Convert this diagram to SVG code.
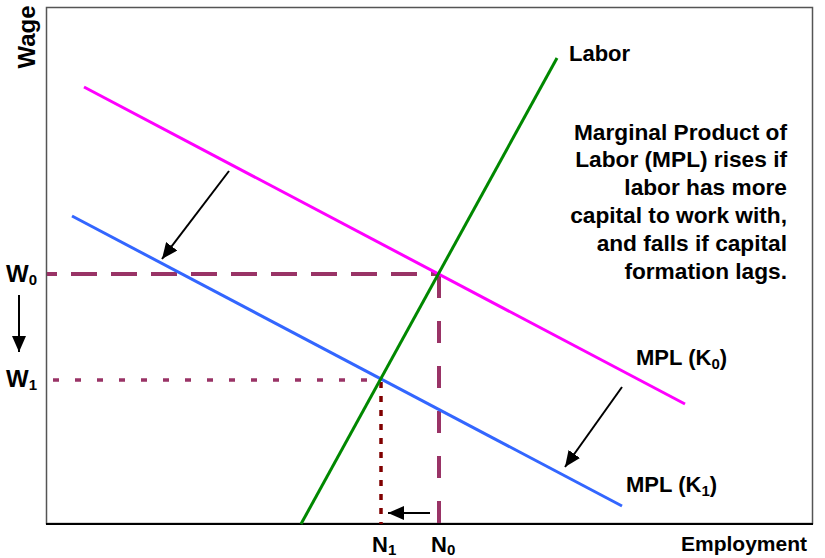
<svg xmlns="http://www.w3.org/2000/svg" width="825" height="558" viewBox="0 0 825 558">
<style>
text{font-family:"Liberation Sans",Arial,sans-serif;font-weight:bold;fill:#000;}
.lbl{font-size:22px;}
.big{font-size:24px;}
.note{font-size:22.7px;text-anchor:end;}
.sub{font-size:15px;}
.arr{stroke:#000;stroke-width:2;fill:none;marker-end:url(#ah);}
</style>
<defs>
<marker id="ah" markerUnits="userSpaceOnUse" markerWidth="18" markerHeight="14" refX="16" refY="7" orient="auto">
<path d="M0,0 L16,7 L0,14 Z" fill="#000"/>
</marker>
</defs>
<rect width="825" height="558" fill="#fff"/>
<g id="axes">
<rect x="46.5" y="7.5" width="766" height="516" fill="none" stroke="#555" stroke-width="1.5"/>
<line x1="46" y1="524" x2="813" y2="524" stroke="#000" stroke-width="2"/>
<text class="big" transform="translate(35,37) rotate(-90)" text-anchor="middle">Wage</text>
<text class="lbl" x="681" y="551" style="font-size:21px">Employment</text>
</g>
<g id="guides">
<line x1="47" y1="274" x2="438" y2="274" stroke="#993366" stroke-width="4" stroke-dasharray="26 14" stroke-dashoffset="16"/>
<line x1="439" y1="276" x2="439" y2="524" stroke="#993366" stroke-width="4" stroke-dasharray="22 23"/>
<line x1="53" y1="380" x2="380" y2="380" stroke="#993366" stroke-width="3.5" stroke-dasharray="6 16"/>
<line x1="381" y1="382" x2="381" y2="524" stroke="#800000" stroke-width="3.5" stroke-dasharray="6 8"/>
</g>
<g id="mpl0">
<line x1="84" y1="87" x2="685" y2="404" stroke="#ff00ff" stroke-width="3"/>
<text class="lbl" x="636" y="365">MPL (K<tspan class="sub" dy="4">0</tspan><tspan dy="-4">)</tspan></text>
</g>
<g id="mpl1">
<line x1="72" y1="216" x2="622" y2="506" stroke="#3366ff" stroke-width="3"/>
<text class="lbl" x="626" y="492">MPL (K<tspan class="sub" dy="4">1</tspan><tspan dy="-4">)</tspan></text>
</g>
<g id="labor">
<line x1="301" y1="524" x2="557" y2="58" stroke="#008800" stroke-width="3"/>
<text class="lbl" x="569" y="61">Labor</text>
</g>
<g id="note">
<text class="note" x="787" y="140">Marginal Product of</text>
<text class="note" x="787" y="167">Labor (MPL) rises if</text>
<text class="note" x="787" y="195">labor has more</text>
<text class="note" x="787" y="223">capital to work with,</text>
<text class="note" x="787" y="251">and falls if capital</text>
<text class="note" x="787" y="279">formation lags.</text>
</g>
<g id="wlabels">
<text class="big" x="6" y="282">W<tspan class="sub" dy="3">0</tspan></text>
<text class="big" x="6" y="387">W<tspan class="sub" dy="3">1</tspan></text>
</g>
<g id="nlabels">
<text class="lbl" x="372" y="552">N<tspan class="sub" dy="3">1</tspan></text>
<text class="lbl" x="431" y="552">N<tspan class="sub" dy="3">0</tspan></text>
</g>
<g id="connectors">
<line class="arr" x1="229" y1="171" x2="162" y2="259"/>
<line class="arr" x1="622" y1="387" x2="565" y2="467"/>
<line class="arr" x1="430" y1="513" x2="388" y2="513"/>
<line class="arr" x1="19" y1="295" x2="19" y2="352"/>
</g>
</svg>
